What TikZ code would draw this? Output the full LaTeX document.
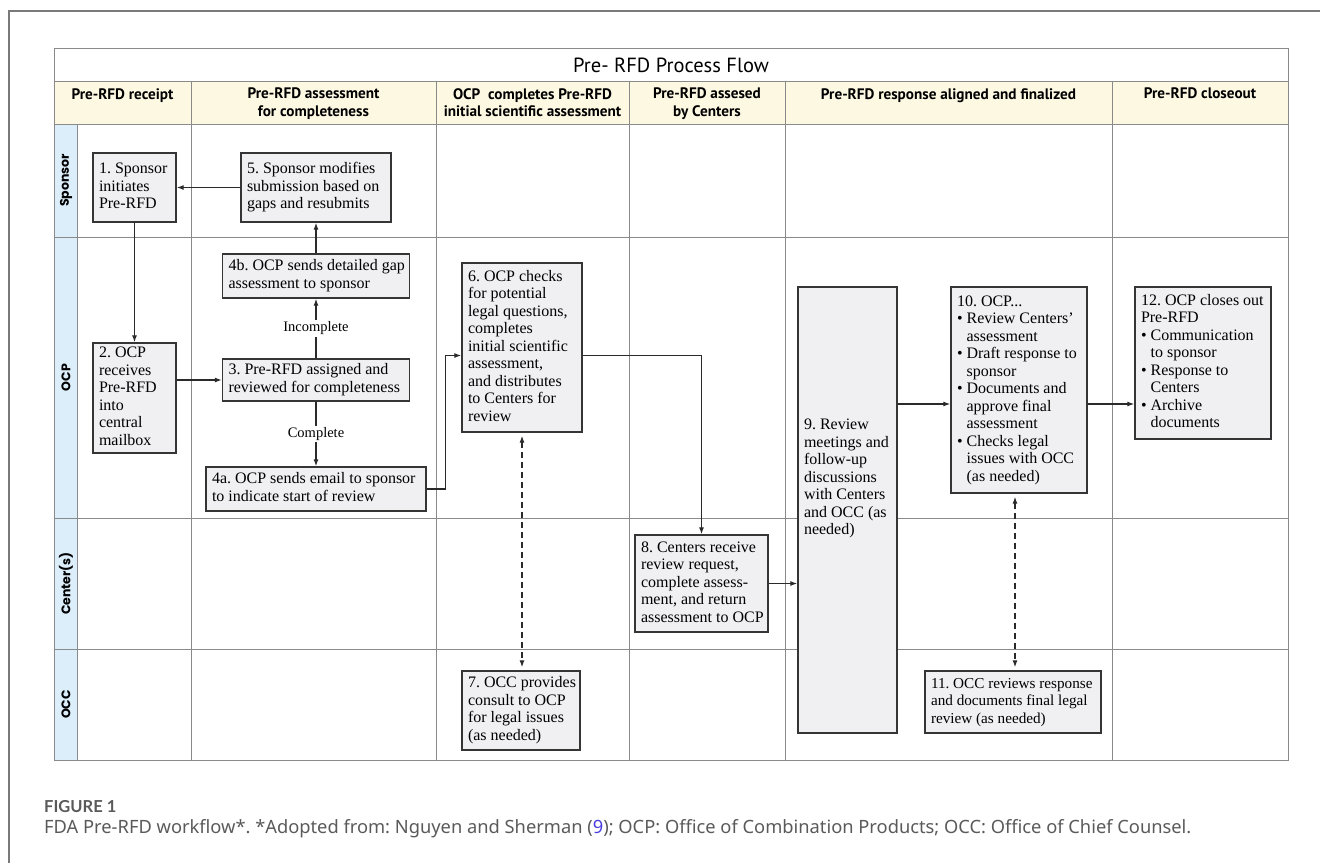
\documentclass[tikz,border=0pt]{standalone}
\usepackage{fontspec}
\setmainfont{Liberation Serif}
\newfontfamily\hdfont{PT Sans}
\newfontfamily\lanefont{Poppins}
\newfontfamily\capfont{Noto Sans}
\newfontfamily\figfont{Lato}
\usetikzlibrary{arrows.meta,calc}
\definecolor{tline}{HTML}{8A8A8A}
\definecolor{frameline}{HTML}{7A7A7A}
\definecolor{hdfill}{HTML}{FDF8E2}
\definecolor{lanefill}{HTML}{DDEEFB}
\definecolor{boxfill}{HTML}{F0F0F2}
\definecolor{boxline}{HTML}{353535}
\definecolor{arrowc}{HTML}{2A2A2A}
\definecolor{capgray}{HTML}{5A5A5A}
\definecolor{linkblue}{HTML}{4B3FE0}
\newcommand\bxt[2]{\makebox[\dimexpr#1pt-12pt\relax][l]{\begin{tabular}{@{}l@{}}#2\end{tabular}}}
\newcommand\bl{\textbullet\ }
\newcommand\ind{\hphantom{\textbullet\ }}
\frenchspacing
\begin{document}
\begin{tikzpicture}[x=1pt,y=-1pt,
  box/.style={draw=boxline, fill=boxfill, line width=1.3pt, inner xsep=6pt, inner ysep=2pt,
    font=\fontsize{16}{17.5}\selectfont},
  sz/.style 2 args={minimum width=#1pt, minimum height=#2pt},
  hd/.style={anchor=north, inner sep=0pt, align=center, font=\hdfont\bfseries\fontsize{15.2}{17.5}\selectfont},
  lane/.style={rotate=90, inner sep=0pt, font=\lanefont\bfseries\fontsize{12.5}{14}\selectfont},
  tl/.style={draw=tline, line width=0.9pt},
  arr/.style={draw=arrowc, line width=1.2pt, -{Latex[length=7pt,width=5pt]}},
  dsh/.style={draw=arrowc, line width=1.2pt, dash pattern=on 6pt off 4pt,
    {Latex[length=7pt,width=5pt]}-{Latex[length=7pt,width=5pt]}, shorten <=3pt, shorten >=3pt},
  albl/.style={fill=white, inner sep=1.5pt, font=\fontsize{14.5}{16}\selectfont}
]
\useasboundingbox (0,0) rectangle (1320,863);
% outer frame
\draw[draw=frameline, line width=1.2pt] (9,863) -- (9,11) -- (1320,11);
% table fills
\fill[hdfill] (54,81) rectangle (1288,124);
\fill[lanefill] (54,124) rectangle (77,760);
% table lines
\draw[tl] (54,48) rectangle (1288,760);
\foreach \yy in {81,124,237,518,649} \draw[tl] (54,\yy) -- (1288,\yy);
\draw[tl] (77,124) -- (77,760);
\foreach \xx in {191,436,629,785,1112} \draw[tl] (\xx,81) -- (\xx,760);
% title and headers
\node[inner sep=0pt, font=\hdfont\fontsize{20.5}{22}\selectfont] (title) at (671,65) {Pre- RFD Process Flow};
\node[hd] (h1) at (122.5,88) {Pre-RFD receipt};
\node[hd] (h2) at (313.5,88) {Pre-RFD assessment\\for completeness};
\node[hd] (h3) at (532.5,88) {OCP\ \ completes Pre-RFD\\initial scientific assessment};
\node[hd] (h4) at (707,88) {Pre-RFD assesed\\by Centers};
\node[hd] (h5) at (948.5,88) {Pre-RFD response aligned and finalized};
\node[hd] (h6) at (1200,88) {Pre-RFD closeout};
% lane labels
\node[lane] (l1) at (66,180.5) {Sponsor};
\node[lane] (l2) at (66,377.5) {OCP};
\node[lane] (l3) at (66,583.5) {Center(s)};
\node[lane] (l4) at (66,704.5) {OCC};
% boxes
\node[box,sz={83}{69}] (b1) at (134.5,187.5) {\bxt{83}{1. Sponsor\\initiates\\Pre-RFD}};
\node[box,sz={150}{69}] (b5) at (316,187.5) {\bxt{150}{5. Sponsor modifies\\submission based on\\gaps and resubmits}};
\node[box,sz={83}{110}] (b2) at (134.5,398) {\bxt{83}{2. OCP\\receives\\Pre-RFD\\into\\central\\mailbox}};
\node[box,sz={187}{44}] (b4b) at (316,276) {\bxt{187}{4b. OCP sends detailed gap\\assessment to sponsor}};
\node[box,sz={187}{42}] (b3) at (316,380) {\bxt{187}{3. Pre-RFD assigned and\\reviewed for completeness}};
\node[box,sz={220}{44}] (b4a) at (316,489) {\bxt{220}{4a. OCP sends email to sponsor\\to indicate start of review}};
\node[box,sz={120}{169}] (b6) at (522,347.5) {\bxt{120}{6. OCP checks\\for potential\\legal questions,\\completes\\initial scientific\\assessment,\\and distributes\\to Centers for\\review}};
\node[box,sz={118}{79}] (b7) at (521,710.5) {\bxt{118}{7. OCC provides\\consult to OCP\\for legal issues\\(as needed)}};
\node[box,sz={133}{97}] (b8) at (701.5,583.5) {\bxt{133}{8. Centers receive\\review request,\\complete assess-\\ment, and return\\assessment to OCP}};
\node[box,sz={99}{446}] (b9) at (847.5,510) {\raisebox{27pt}[0pt][0pt]{\bxt{99}{9. Review\\meetings and\\follow-up\\discussions\\with Centers\\and OCC (as\\needed)}}};
\node[box,sz={136}{206}] (b10) at (1019,390) {\bxt{136}{10. OCP...\\\bl Review Centers'\\\ind assessment\\\bl Draft response to\\\ind sponsor\\\bl Documents and\\\ind approve final\\\ind assessment\\\bl Checks legal\\\ind issues with OCC\\\ind (as needed)}};
\node[box,sz={176}{62}, font=\fontsize{15.2}{17.5}\selectfont] (b11) at (1013,702) {\bxt{176}{11. OCC reviews response\\and documents final legal\\review (as needed)}};
\node[box,sz={136}{152}] (b12) at (1203,363) {\bxt{136}{12. OCP closes out\\Pre-RFD\\\bl Communication\\\ind to sponsor\\\bl Response to\\\ind Centers\\\bl Archive\\\ind documents}};
% connectors
\draw[arr] (b5.west) -- (b1.east);
\draw[arr] (b1.south) -- (b1.south |- b2.north);
\draw[arr] (b2.east |- b3.west) -- (b3.west);
\draw[arr] (b3.north) -- node[albl] {Incomplete} (b4b.south);
\draw[arr] (b4b.north) -- (b5.south);
\draw[arr] (b3.south) -- node[albl] {Complete} (b4a.north);
\coordinate (p6w) at ([yshift=-8pt]b6.west);
\coordinate (p6e) at ([yshift=-8pt]b6.east);
\draw[arr] (b4a.east) -- ++(19,0) |- (p6w);
\draw[arr] (p6e) -| (b8.north);
\draw[arr] (b8.east) -- (b8.east -| b9.west);
\coordinate (p10w) at ([yshift=-14pt]b10.west);
\coordinate (p10e) at ([yshift=-14pt]b10.east);
\draw[arr] (p10w -| b9.east) -- (p10w);
\draw[arr] (p10e) -- (p10e -| b12.west);
\draw[dsh] (b6.south) -- (b6.south |- b7.north);
\coordinate (p10s) at ([xshift=-4pt]b10.south);
\draw[dsh] (p10s) -- (p10s |- b11.north);
% caption
\node[anchor=west, inner sep=0pt, text=capgray, font=\figfont\bfseries\fontsize{16.5}{18}\selectfont] (fig) at (44,807) {FIGURE 1};
\node[anchor=west, inner sep=0pt, text=capgray, font=\capfont\fontsize{18.3}{20}\selectfont] (cap) at (44,829) {FDA Pre-RFD workflow*. *Adopted from: Nguyen and Sherman (\textcolor{linkblue}{9}); OCP: Office of Combination Products; OCC: Office of Chief Counsel.};
\end{tikzpicture}
\end{document}
